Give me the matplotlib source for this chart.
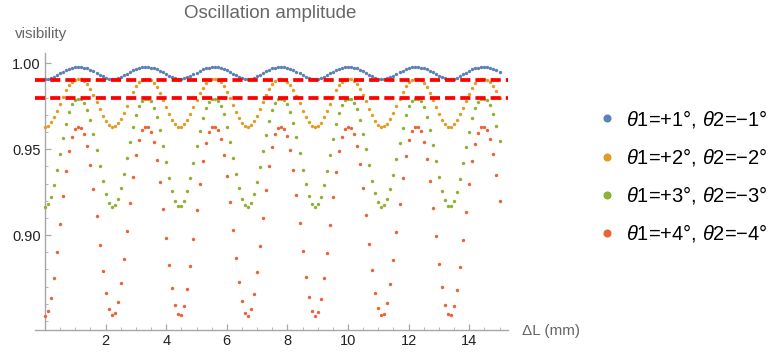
import matplotlib
matplotlib.use('Agg')
import matplotlib.pyplot as plt
import numpy as np
from matplotlib.lines import Line2D
from matplotlib.ticker import MultipleLocator, FixedLocator

plt.rcParams['font.family'] = ['Liberation Sans', 'DejaVu Sans']
plt.rcParams['mathtext.fontset'] = 'custom'
plt.rcParams['mathtext.it'] = 'Liberation Sans:italic'
plt.rcParams['mathtext.rm'] = 'Liberation Sans'

# path difference, sampled every 0.1 mm from 0 to 15 mm
dL = np.linspace(0, 15, 151)

# visibility
vis_1 = [
    0.9908, 0.9910, 0.9915, 0.9922, 0.9931, 0.9942, 0.9952, 0.9961, 0.9968, 0.9973,
    0.9976, 0.9977, 0.9977, 0.9974, 0.9970, 0.9963, 0.9954, 0.9944, 0.9934, 0.9924,
    0.9916, 0.9911, 0.9908, 0.9909, 0.9913, 0.9920, 0.9929, 0.9939, 0.9949, 0.9959,
    0.9967, 0.9972, 0.9976, 0.9977, 0.9977, 0.9975, 0.9971, 0.9965, 0.9957, 0.9947,
    0.9937, 0.9927, 0.9918, 0.9912, 0.9909, 0.9908, 0.9912, 0.9918, 0.9926, 0.9936,
    0.9946, 0.9956, 0.9965, 0.9971, 0.9975, 0.9977, 0.9977, 0.9976, 0.9973, 0.9967,
    0.9959, 0.9950, 0.9939, 0.9929, 0.9920, 0.9913, 0.9909, 0.9908, 0.9910, 0.9916,
    0.9924, 0.9933, 0.9944, 0.9954, 0.9963, 0.9970, 0.9974, 0.9977, 0.9977, 0.9976,
    0.9974, 0.9969, 0.9961, 0.9952, 0.9942, 0.9932, 0.9922, 0.9915, 0.9910, 0.9908,
    0.9910, 0.9914, 0.9922, 0.9931, 0.9941, 0.9951, 0.9961, 0.9968, 0.9973, 0.9976,
    0.9977, 0.9977, 0.9975, 0.9970, 0.9963, 0.9955, 0.9945, 0.9934, 0.9925, 0.9917,
    0.9911, 0.9908, 0.9909, 0.9913, 0.9919, 0.9928, 0.9938, 0.9949, 0.9958, 0.9966,
    0.9972, 0.9976, 0.9977, 0.9977, 0.9975, 0.9971, 0.9965, 0.9957, 0.9947, 0.9937,
    0.9927, 0.9918, 0.9912, 0.9909, 0.9908, 0.9911, 0.9917, 0.9926, 0.9936, 0.9946,
    0.9956, 0.9964, 0.9971, 0.9975, 0.9977, 0.9977, 0.9976, 0.9973, 0.9967, 0.9959,
    0.9950,
]
vis_2 = [
    0.9630, 0.9637, 0.9656, 0.9686, 0.9724, 0.9765, 0.9806, 0.9843, 0.9873, 0.9894,
    0.9905, 0.9908, 0.9906, 0.9897, 0.9879, 0.9852, 0.9816, 0.9776, 0.9734, 0.9695,
    0.9663, 0.9641, 0.9631, 0.9634, 0.9650, 0.9678, 0.9713, 0.9754, 0.9796, 0.9834,
    0.9866, 0.9889, 0.9903, 0.9908, 0.9907, 0.9901, 0.9885, 0.9860, 0.9826, 0.9787,
    0.9745, 0.9705, 0.9671, 0.9645, 0.9632, 0.9632, 0.9644, 0.9669, 0.9703, 0.9743,
    0.9785, 0.9825, 0.9859, 0.9884, 0.9900, 0.9907, 0.9908, 0.9903, 0.9890, 0.9867,
    0.9835, 0.9797, 0.9756, 0.9715, 0.9679, 0.9651, 0.9634, 0.9630, 0.9640, 0.9662,
    0.9694, 0.9733, 0.9774, 0.9815, 0.9850, 0.9879, 0.9897, 0.9906, 0.9908, 0.9905,
    0.9894, 0.9874, 0.9845, 0.9808, 0.9767, 0.9725, 0.9688, 0.9657, 0.9637, 0.9630,
    0.9636, 0.9655, 0.9685, 0.9722, 0.9763, 0.9805, 0.9842, 0.9872, 0.9893, 0.9905,
    0.9908, 0.9907, 0.9898, 0.9880, 0.9853, 0.9818, 0.9778, 0.9736, 0.9697, 0.9664,
    0.9641, 0.9631, 0.9633, 0.9649, 0.9676, 0.9712, 0.9753, 0.9794, 0.9833, 0.9865,
    0.9889, 0.9902, 0.9908, 0.9907, 0.9901, 0.9886, 0.9861, 0.9828, 0.9788, 0.9747,
    0.9706, 0.9672, 0.9646, 0.9632, 0.9631, 0.9644, 0.9668, 0.9702, 0.9742, 0.9783,
    0.9823, 0.9857, 0.9883, 0.9900, 0.9907, 0.9908, 0.9904, 0.9891, 0.9868, 0.9837,
    0.9799,
]
vis_3 = [
    0.9165, 0.9180, 0.9224, 0.9292, 0.9377, 0.9471, 0.9564, 0.9647, 0.9715, 0.9761,
    0.9787, 0.9794, 0.9790, 0.9770, 0.9729, 0.9667, 0.9586, 0.9495, 0.9401, 0.9313,
    0.9240, 0.9189, 0.9166, 0.9173, 0.9210, 0.9273, 0.9354, 0.9446, 0.9540, 0.9627,
    0.9699, 0.9751, 0.9782, 0.9793, 0.9792, 0.9778, 0.9742, 0.9685, 0.9609, 0.9520,
    0.9425, 0.9335, 0.9257, 0.9200, 0.9169, 0.9169, 0.9198, 0.9254, 0.9331, 0.9422,
    0.9516, 0.9605, 0.9682, 0.9740, 0.9776, 0.9792, 0.9793, 0.9783, 0.9753, 0.9702,
    0.9630, 0.9544, 0.9450, 0.9358, 0.9276, 0.9212, 0.9174, 0.9166, 0.9188, 0.9237,
    0.9310, 0.9397, 0.9491, 0.9583, 0.9664, 0.9727, 0.9769, 0.9790, 0.9794, 0.9788,
    0.9763, 0.9717, 0.9651, 0.9568, 0.9475, 0.9381, 0.9295, 0.9227, 0.9181, 0.9165,
    0.9179, 0.9222, 0.9289, 0.9374, 0.9467, 0.9560, 0.9644, 0.9712, 0.9760, 0.9786,
    0.9794, 0.9791, 0.9771, 0.9731, 0.9670, 0.9590, 0.9499, 0.9405, 0.9316, 0.9242,
    0.9191, 0.9166, 0.9173, 0.9208, 0.9269, 0.9351, 0.9442, 0.9536, 0.9624, 0.9697,
    0.9750, 0.9781, 0.9793, 0.9793, 0.9778, 0.9744, 0.9688, 0.9612, 0.9524, 0.9429,
    0.9338, 0.9259, 0.9202, 0.9170, 0.9168, 0.9196, 0.9251, 0.9328, 0.9418, 0.9512,
    0.9602, 0.9680, 0.9738, 0.9775, 0.9792, 0.9793, 0.9784, 0.9755, 0.9704, 0.9634,
    0.9547,
]
vis_4 = [
    0.8530, 0.8556, 0.8633, 0.8752, 0.8901, 0.9065, 0.9227, 0.9374, 0.9491, 0.9573,
    0.9618, 0.9630, 0.9623, 0.9588, 0.9517, 0.9408, 0.9267, 0.9108, 0.8943, 0.8789,
    0.8661, 0.8572, 0.8532, 0.8544, 0.8609, 0.8718, 0.8860, 0.9022, 0.9186, 0.9337,
    0.9464, 0.9555, 0.9609, 0.9629, 0.9627, 0.9601, 0.9539, 0.9439, 0.9307, 0.9150,
    0.8985, 0.8827, 0.8691, 0.8591, 0.8538, 0.8537, 0.8587, 0.8686, 0.8820, 0.8979,
    0.9144, 0.9300, 0.9434, 0.9535, 0.9599, 0.9627, 0.9629, 0.9611, 0.9559, 0.9468,
    0.9343, 0.9192, 0.9028, 0.8867, 0.8724, 0.8613, 0.8547, 0.8531, 0.8570, 0.8657,
    0.8783, 0.8936, 0.9101, 0.9262, 0.9402, 0.9513, 0.9586, 0.9622, 0.9630, 0.9619,
    0.9576, 0.9496, 0.9379, 0.9234, 0.9071, 0.8907, 0.8758, 0.8638, 0.8559, 0.8530,
    0.8554, 0.8629, 0.8747, 0.8895, 0.9058, 0.9221, 0.9368, 0.9487, 0.9571, 0.9617,
    0.9630, 0.9625, 0.9590, 0.9520, 0.9412, 0.9274, 0.9114, 0.8949, 0.8794, 0.8665,
    0.8575, 0.8532, 0.8543, 0.8606, 0.8713, 0.8855, 0.9015, 0.9179, 0.9332, 0.9460,
    0.9553, 0.9608, 0.9629, 0.9628, 0.9603, 0.9542, 0.9444, 0.9312, 0.9157, 0.8992,
    0.8833, 0.8695, 0.8594, 0.8539, 0.8536, 0.8585, 0.8681, 0.8815, 0.8972, 0.9137,
    0.9295, 0.9430, 0.9532, 0.9597, 0.9627, 0.9629, 0.9612, 0.9562, 0.9473, 0.9350,
    0.9199,
]

labels = [r'$\theta$1=+1°, $\theta$2=−1°', r'$\theta$1=+2°, $\theta$2=−2°',
          r'$\theta$1=+3°, $\theta$2=−3°', r'$\theta$1=+4°, $\theta$2=−4°']
colors = ['#5e81b5', '#e19c24', '#8fb032', '#eb6235']
thresholds = [0.99, 0.98]

fig = plt.figure(figsize=(7.74, 3.53), dpi=100)
ax = fig.add_axes([35/774, 23/353, 473/774, 277/353])

for vis, c in zip([vis_1, vis_2, vis_3, vis_4], colors):
    ax.scatter(dL, vis, s=6, color=c, linewidths=0, zorder=3)

for th in thresholds:
    ax.axhline(th, color='#ff0000', lw=2.7, dashes=(2.7, 1.35), zorder=4)

ax.set_xlim(-0.33, 15.28)
ax.set_ylim(0.8447, 1.006)

axis_col = '#a8a8a8'
for s in ['top', 'right']:
    ax.spines[s].set_visible(False)
ax.spines['left'].set_position(('data', 0))
for s in ['left', 'bottom']:
    ax.spines[s].set_color(axis_col)
    ax.spines[s].set_linewidth(1.0)

ax.xaxis.set_major_locator(FixedLocator([2, 4, 6, 8, 10, 12, 14]))
ax.xaxis.set_minor_locator(MultipleLocator(0.5))
ax.yaxis.set_major_locator(FixedLocator([0.90, 0.95, 1.00]))
ax.yaxis.set_minor_locator(MultipleLocator(0.01))
ax.set_yticklabels(['0.90', '0.95', '1.00'])
ax.tick_params(which='major', direction='in', length=4, width=0.9, color=axis_col,
               labelcolor='#222222', labelsize=10.5, pad=3)
ax.tick_params(which='minor', direction='in', length=2.3, width=0.6, color=axis_col)

fig.text(270/774, 1 - 13/353, 'Oscillation amplitude', ha='center', va='center',
         fontsize=13.5, color='#666666')
fig.text(15/774, 1 - 34/353, 'visibility', ha='left', va='center',
         fontsize=11, color='#666666')
fig.text(522/774, 1 - 331/353, 'ΔL (mm)', ha='left', va='center',
         fontsize=11, color='#666666')

handles = [Line2D([], [], ls='none', marker='o', ms=4.8, mfc=c, mec=c) for c in colors]
fig.legend(handles, labels, loc='upper left', bbox_to_anchor=(599/774, 1 - 108/353),
           bbox_transform=fig.transFigure, frameon=False, fontsize=14.5,
           handlelength=0.8, handletextpad=0.55, labelspacing=0.8,
           borderpad=0, borderaxespad=0)

fig.savefig('out.png', dpi=100)
